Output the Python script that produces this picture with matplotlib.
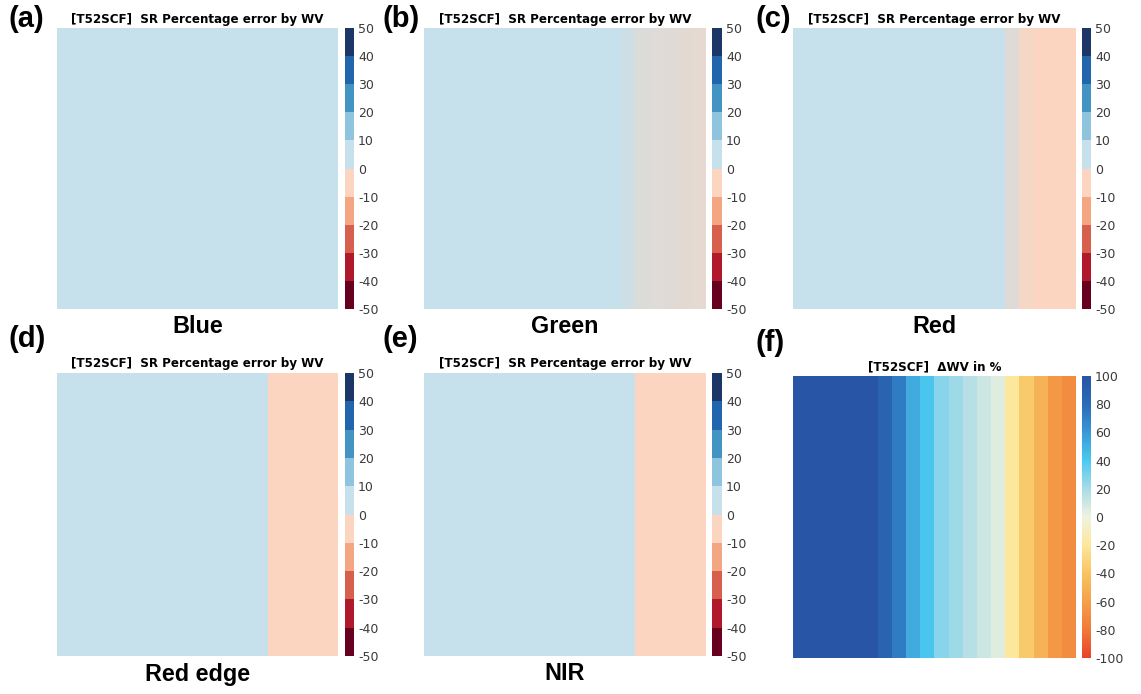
import numpy as np
import matplotlib
matplotlib.use("Agg")
import matplotlib.pyplot as plt
from matplotlib.colors import BoundaryNorm, LinearSegmentedColormap, Normalize, ListedColormap
from matplotlib.cm import ScalarMappable

plt.rcParams['axes.unicode_minus'] = False

# ---------------- data ----------------
tile = "T52SCF"
band_names = ["Blue", "Green", "Red", "Red edge", "NIR"]
panel_letters = ["(a)", "(b)", "(c)", "(d)", "(e)", "(f)"]

# Delta WV (%) for the 20 column bands of the scene (left -> right)
dwv_columns = [100, 100, 100, 100, 100, 100, 86, 72, 52, 42,
               27, 22, 16, 10, 4, -20, -36, -50, -64, -70]

# error class levels (%): 0..10 bin and -10..0 bin
pos_err_level = 5
neg_err_level = -5

# share of pixels with negative SR error in each column band, per band
neg_share_blue = [0] * 20
neg_share_green = [0] * 14 + [0.15, 0.4, 0.45, 0.5, 0.55, 0.6]
neg_share_red = [0] * 15 + [0.5, 0.9, 1, 1, 1]
neg_share_rededge = [0] * 15 + [1, 1, 1, 1, 1]
neg_share_nir = [0] * 15 + [1, 1, 1, 1, 1]
neg_shares = [neg_share_blue, neg_share_green, neg_share_red,
              neg_share_rededge, neg_share_nir]

err_levels = [-50, -40, -30, -20, -10, 0, 10, 20, 30, 40, 50]
dwv_ticks = [100, 80, 60, 40, 20, 0, -20, -40, -60, -80, -100]

# ---------------- figure ----------------
W, H = 1141, 694
fig = plt.figure(figsize=(W / 100, H / 100), dpi=100)

def fbox(x0, y0, x1, y1):
    return [x0 / W, 1 - y1 / H, (x1 - x0) / W, (y1 - y0) / H]

img_x = [(57, 338), (424, 706), (793, 1076)]
cb_x = [(345, 354), (712, 722), (1082, 1091)]
row_y = [(28, 309), (373, 656)]

cmap_err = ListedColormap(["#67001f", "#b2182b", "#d6604d", "#f4a582", "#fcd5c0",
                           "#c6e0ec", "#8fc4de", "#4393c3", "#2166ac", "#1c3667"])
norm_err = BoundaryNorm(err_levels, cmap_err.N)

dwv_cmap = LinearSegmentedColormap.from_list(
    "dwv",
    [(0.00, "#e8432b"), (0.10, "#f07a3a"), (0.20, "#f5a04a"), (0.30, "#f8c462"),
     (0.40, "#fde79c"), (0.50, "#eef3df"), (0.60, "#a9dbe8"), (0.70, "#4ccaf0"),
     (0.80, "#3a98d6"), (0.90, "#2a6cb8"), (1.00, "#2855a5")])
dwv_norm = Normalize(-100, 100)

tick_color = "#3a3a3a"
title_font = dict(fontsize=8.6, fontweight='bold', family='DejaVu Sans')
letter_font = dict(fontsize=21, fontweight='bold', family='Liberation Sans')
name_font = dict(fontsize=16.8, fontweight='bold', family='Liberation Sans')

def style_cbar(cb):
    cb.outline.set_visible(False)
    cb.ax.tick_params(length=0, labelsize=9, labelcolor=tick_color, pad=3)
    for t in cb.ax.get_yticklabels():
        t.set_family('DejaVu Sans')

ncol = len(dwv_columns)
for i in range(6):
    r, c = divmod(i, 3)
    x0, x1 = img_x[c]
    y0, y1 = row_y[r]
    if i == 5:
        y0, y1 = y0 + 3, y1 + 2
    ax = fig.add_axes(fbox(x0, y0, x1, y1))
    ax.set_xticks([]); ax.set_yticks([])
    for s in ax.spines.values():
        s.set_visible(False)
    cax = fig.add_axes(fbox(cb_x[c][0], y0, cb_x[c][1], y1))

    if i < 5:
        base = np.full((1, ncol), pos_err_level, dtype=float)
        over = np.full((1, ncol), neg_err_level, dtype=float)
        alpha = np.array(neg_shares[i], dtype=float).reshape(1, ncol)
        ax.imshow(base, cmap=cmap_err, norm=norm_err, aspect='auto',
                  interpolation='nearest', extent=[0, ncol, 0, 1])
        ax.imshow(over, cmap=cmap_err, norm=norm_err, aspect='auto', alpha=alpha,
                  interpolation='nearest', extent=[0, ncol, 0, 1])
        ax.set_xlim(0, ncol); ax.set_ylim(0, 1)
        cb = fig.colorbar(ScalarMappable(norm=norm_err, cmap=cmap_err), cax=cax,
                          ticks=err_levels)
        cb.ax.set_yticklabels([str(v) for v in err_levels])
        style_cbar(cb)
        fig.text((x0 + x1) / 2 / W, 1 - (y0 - 9) / H,
                 f"[{tile}]  SR Percentage error by WV", ha='center', va='center',
                 **title_font)
        fig.text((x0 + x1) / 2 / W, 1 - (y1 + 18) / H, band_names[i],
                 ha='center', va='center', **name_font)
    else:
        ax.imshow(np.array(dwv_columns, dtype=float).reshape(1, ncol),
                  cmap=dwv_cmap, norm=dwv_norm, aspect='auto',
                  interpolation='nearest', extent=[0, ncol, 0, 1])
        ax.set_xlim(0, ncol); ax.set_ylim(0, 1)
        cb = fig.colorbar(ScalarMappable(norm=dwv_norm, cmap=dwv_cmap), cax=cax,
                          ticks=dwv_ticks)
        cb.ax.set_yticklabels([str(v) for v in dwv_ticks])
        style_cbar(cb)
        fig.text((x0 + x1) / 2 / W, 1 - (y0 - 9) / H,
                 f"[{tile}]  \u0394WV in %", ha='center', va='center', **title_font)

    lx = [9, 382, 756][c]
    ly = [19, 339][r] + (4 if i == 5 else 0)
    fig.text(lx / W, 1 - ly / H, panel_letters[i], ha='left', va='center',
             **letter_font)

fig.savefig("out.png", dpi=100)
